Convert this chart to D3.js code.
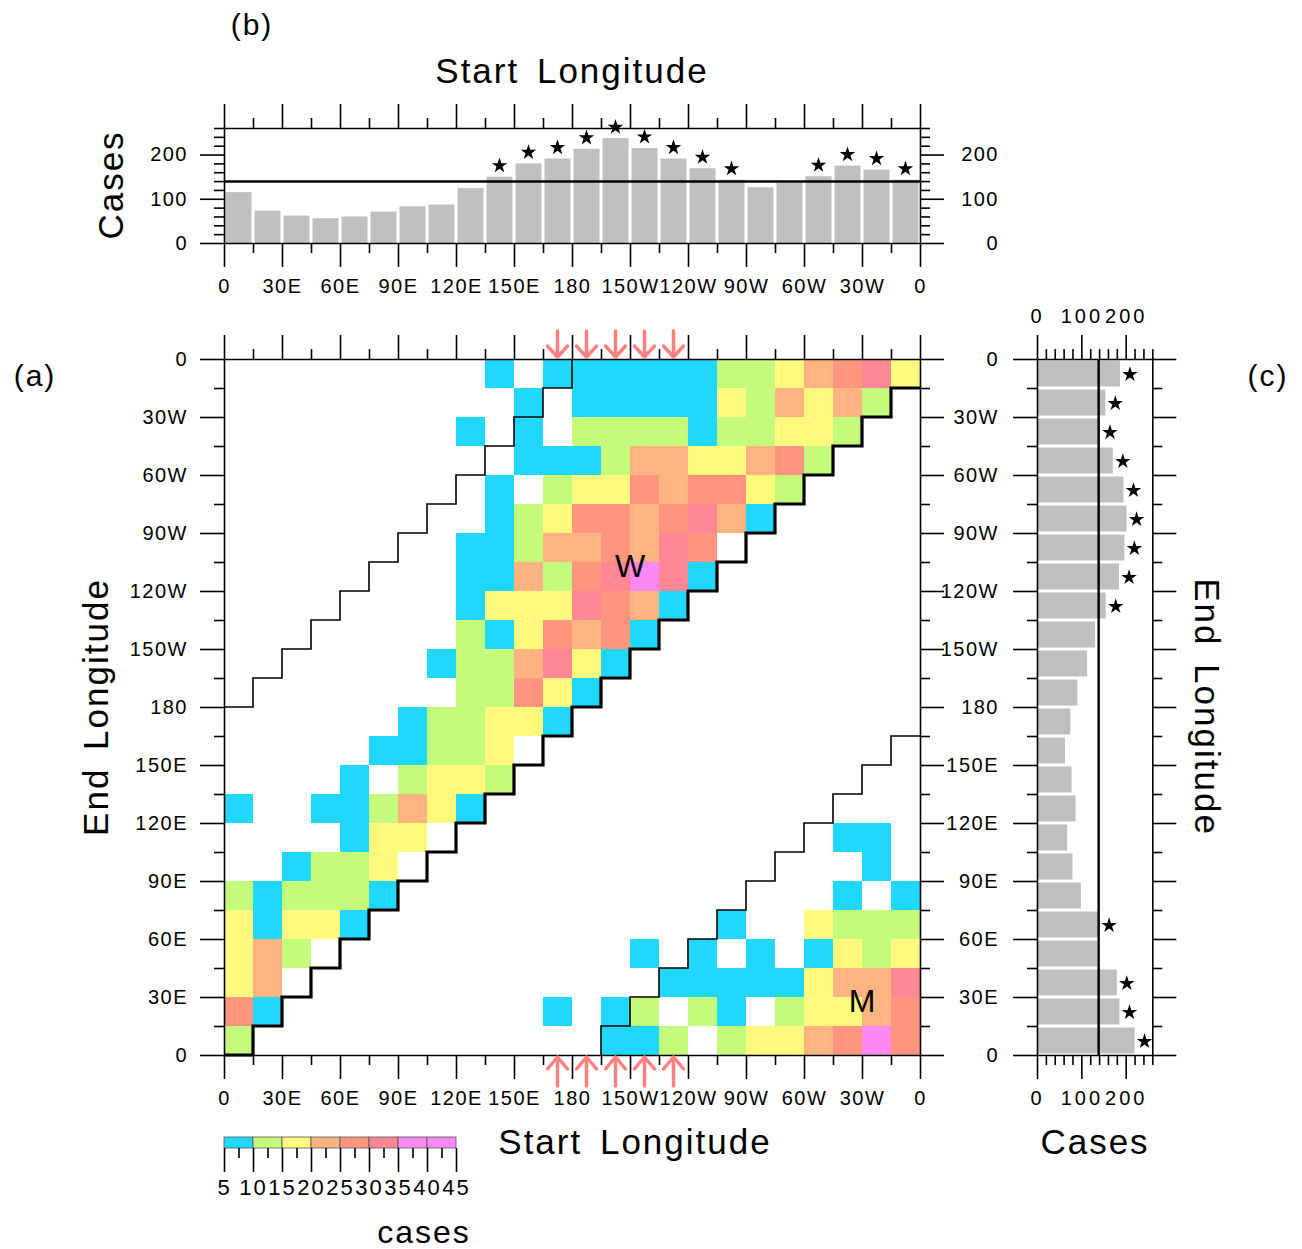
<!DOCTYPE html>
<html>
<head>
<meta charset="utf-8">
<script src="https://cdn.jsdelivr.net/npm/d3@7"></script>
<style>
  body { margin: 0; background: #fff; }
  svg text { font-family: "Liberation Sans", Arial, sans-serif; fill: #000; }
</style>
</head>
<body>
<svg id="chart" width="1302" height="1249"></svg>
<script>
// longitude bins are 15 degrees, 24 of them
const binWidth = 15;
const lonTicks = [0, 30, 60, 90, 120, 150, 180, 210, 240, 270, 300, 330, 360];
const lonMinor = [15, 45, 75, 105, 135, 165, 195, 225, 255, 285, 315, 345];
const lonLabels = ["0", "30E", "60E", "90E", "120E", "150E", "180", "150W", "120W", "90W", "60W", "30W", "0"];

// cases per cell: one row per end-longitude bin (0-15 first), columns = start-longitude bins
const cases = [
  [12, 0, 0, 0, 0, 0, 0, 0, 0, 0, 0, 0, 0, 7, 7,12, 0,12,17,17,22,27,37,27],
  [27, 7, 0, 0, 0, 0, 0, 0, 0, 0, 0, 7, 0, 7,12, 0,12, 7, 0,12,17,17,22,27],
  [17,22, 0, 0, 0, 0, 0, 0, 0, 0, 0, 0, 0, 0, 0, 7, 7, 7, 7, 7,17,22,22,32],
  [17,22,12, 0, 0, 0, 0, 0, 0, 0, 0, 0, 0, 0, 7, 0, 7, 0, 7, 0, 7,17,12,17],
  [17, 7,17,17, 7, 0, 0, 0, 0, 0, 0, 0, 0, 0, 0, 0, 0, 7, 0, 0,17,12,12,12],
  [12, 7,12,12,12, 7, 0, 0, 0, 0, 0, 0, 0, 0, 0, 0, 0, 0, 0, 0, 0, 7, 0, 7],
  [ 0, 0, 7,12,12,17, 0, 0, 0, 0, 0, 0, 0, 0, 0, 0, 0, 0, 0, 0, 0, 0, 7, 0],
  [ 0, 0, 0, 0, 7,17,17, 0, 0, 0, 0, 0, 0, 0, 0, 0, 0, 0, 0, 0, 0, 7, 7, 0],
  [ 7, 0, 0, 7, 7,12,22,17, 7, 0, 0, 0, 0, 0, 0, 0, 0, 0, 0, 0, 0, 0, 0, 0],
  [ 0, 0, 0, 0, 7, 0,12,17,17,12, 0, 0, 0, 0, 0, 0, 0, 0, 0, 0, 0, 0, 0, 0],
  [ 0, 0, 0, 0, 0, 7, 7,12,12,17, 0, 0, 0, 0, 0, 0, 0, 0, 0, 0, 0, 0, 0, 0],
  [ 0, 0, 0, 0, 0, 0, 7,12,12,17,17, 7, 0, 0, 0, 0, 0, 0, 0, 0, 0, 0, 0, 0],
  [ 0, 0, 0, 0, 0, 0, 0, 0,12,12,27,17, 7, 0, 0, 0, 0, 0, 0, 0, 0, 0, 0, 0],
  [ 0, 0, 0, 0, 0, 0, 0, 7,12,12,22,32,17, 7, 0, 0, 0, 0, 0, 0, 0, 0, 0, 0],
  [ 0, 0, 0, 0, 0, 0, 0, 0,12, 7,17,27,22,27, 7, 0, 0, 0, 0, 0, 0, 0, 0, 0],
  [ 0, 0, 0, 0, 0, 0, 0, 0, 7,17,17,17,32,27,22, 7, 0, 0, 0, 0, 0, 0, 0, 0],
  [ 0, 0, 0, 0, 0, 0, 0, 0, 7, 7,22,12,27,32,37,32, 7, 0, 0, 0, 0, 0, 0, 0],
  [ 0, 0, 0, 0, 0, 0, 0, 0, 7, 7,12,22,22,27,22,32,27, 0, 0, 0, 0, 0, 0, 0],
  [ 0, 0, 0, 0, 0, 0, 0, 0, 0, 7,12,17,27,27,22,27,32,22, 7, 0, 0, 0, 0, 0],
  [ 0, 0, 0, 0, 0, 0, 0, 0, 0, 7, 0,12,17,17,27,22,27,27,17,12, 0, 0, 0, 0],
  [ 0, 0, 0, 0, 0, 0, 0, 0, 0, 0, 7, 7, 7,12,22,22,17,17,22,27,12, 0, 0, 0],
  [ 0, 0, 0, 0, 0, 0, 0, 0, 7, 0, 7, 0,12,12,12,12, 7,12,12,17,17,12, 0, 0],
  [ 0, 0, 0, 0, 0, 0, 0, 0, 0, 0, 7, 0, 7, 7, 7, 7, 7,17,12,22,17,22,12, 0],
  [ 0, 0, 0, 0, 0, 0, 0, 0, 0, 7, 0, 7, 7, 7, 7, 7, 7,12,12,17,22,27,32,17]
];

// totals per start bin (panel b) and per end bin (panel c), with significance flags
const startTotals = [115, 73, 62, 56, 60, 71, 83, 87, 124, 150, 180, 191, 213, 237, 215, 191, 169, 143, 126, 136, 151, 175, 166, 143];
const startSignif = [0, 0, 0, 0, 0, 0, 0, 0, 0, 1, 1, 1, 1, 1, 1, 1, 1, 1, 0, 0, 1, 1, 1, 1];
const endTotals = [220, 186, 180, 136, 140, 99, 80, 68, 87, 78, 63, 75, 91, 113, 131, 155, 185, 197, 202, 195, 171, 142, 154, 187];
const endSignif = [1, 1, 1, 0, 1, 0, 0, 0, 0, 0, 0, 0, 0, 0, 0, 1, 1, 1, 1, 1, 1, 1, 1, 1];
const threshold = 139;
const caseTicks = [0, 100, 200];
const caseMinor = [20, 40, 60, 80, 120, 140, 160, 180, 220, 240, 260];

// colour levels
const levels = [5, 10, 15, 20, 25, 30, 35, 40, 45];
const levelColors = ["#20d8fe", "#c5fb7c", "#fffa7d", "#feb381", "#fe967f", "#fe8794", "#fc88f2", "#fc88f8"];

// marked start longitudes (arrows) and region letters
const arrowLons = [172.5, 187.5, 202.5, 217.5, 232.5];
const regionMarks = [{ label: "W", start: 210, end: 253 }, { label: "M", start: 330, end: 28 }];

const svg = d3.select("#chart");
const font = "'Liberation Sans', Arial, sans-serif";

const x = d3.scaleLinear().domain([0, 360]).range([224, 920]);
const y = d3.scaleLinear().domain([0, 360]).range([1055, 359]);
const yb = d3.scaleLinear().domain([0, 260]).range([243, 128]);
const xc = d3.scaleLinear().domain([0, 260]).range([1037, 1152.3]);
const color = d3.scaleThreshold().domain(levels.slice(1, -1)).range(levelColors);

const cellW = x(binWidth) - x(0);
const cellH = y(0) - y(binWidth);

// helper: major + minor tick axes
function drawAxis(axisFn, scale, major, minor, pos, labels, opts = {}) {
  const g = svg.append("g").attr("transform", pos);
  const maj = axisFn(scale).tickValues(major).tickSize(24).tickSizeOuter(0)
    .tickPadding(opts.pad || 12)
    .tickFormat((d, i) => labels ? labels[i] : "");
  g.call(maj);
  const gm = svg.append("g").attr("transform", pos);
  gm.call(axisFn(scale).tickValues(minor).tickSize(10).tickSizeOuter(0).tickFormat(""));
  gm.select(".domain").remove();
  [g, gm].forEach(s => {
    s.attr("font-family", font).attr("font-size", opts.size || 20);
    s.selectAll("line, path").attr("stroke", "#000").attr("stroke-width", 1.6);
  });
  g.selectAll("text").attr("letter-spacing", opts.spacing || 1.5).attr("fill", "#000");
  return g;
}

// ---------------- panel (a) ----------------
const cells = [];
cases.forEach((row, j) => row.forEach((v, i) => { if (v > 0) cells.push({ i, j, v }); }));

svg.append("g").selectAll("rect").data(cells).join("rect")
  .attr("x", d => x(d.i * binWidth))
  .attr("y", d => y((d.j + 1) * binWidth))
  .attr("width", cellW)
  .attr("height", cellH)
  .attr("fill", d => color(d.v))
  .attr("shape-rendering", "crispEdges");

// staircases: diagonal (thick) and +/-180 degree separation lines (thin)
const nBins = 360 / binWidth;
const line = d3.line().x(d => x(d[0] * binWidth)).y(d => y(d[1] * binWidth));
const diag = [[0, 0]];
for (let k = 1; k < nBins; k++) { diag.push([k, k - 1], [k, k]); }
diag.push([nBins, nBins - 1]);
const upper = [];
for (let k = 0; k < nBins / 2; k++) { upper.push([k, k + 12], [k + 1, k + 12]); }
upper.push([12, 24]);
const lower = [];
for (let k = 13; k < nBins; k++) { lower.push([k, k - 13], [k, k - 12]); }
lower.push([nBins, 11]);

svg.append("path").attr("d", line(upper)).attr("fill", "none").attr("stroke", "#000").attr("stroke-width", 1.6);
svg.append("path").attr("d", line(lower)).attr("fill", "none").attr("stroke", "#000").attr("stroke-width", 1.6);
svg.append("path").attr("d", line(diag)).attr("fill", "none").attr("stroke", "#000").attr("stroke-width", 3.2);

// frame + axes
drawAxis(d3.axisLeft, y, lonTicks, lonMinor, `translate(${x(0)},0)`, lonLabels);
drawAxis(d3.axisRight, y, lonTicks, lonMinor, `translate(${x(360)},0)`, null);
drawAxis(d3.axisTop, x, lonTicks, lonMinor, `translate(0,${y(360)})`, null);
drawAxis(d3.axisBottom, x, lonTicks, lonMinor, `translate(0,${y(0)})`, lonLabels, { pad: 12 });

regionMarks.forEach(m => {
  svg.append("text").attr("x", x(m.start)).attr("y", y(m.end))
    .attr("text-anchor", "middle").attr("dominant-baseline", "central")
    .attr("font-size", 32).text(m.label);
});

// arrows marking start longitudes
const arrowCol = "#ff8080";
arrowLons.forEach(lon => {
  const ax = x(lon);
  const top = y(360), bot = y(0);
  svg.append("path")
    .attr("d", `M${ax},${top - 28}L${ax},${top - 2}M${ax - 10},${top - 13}L${ax},${top - 2}L${ax + 10},${top - 13}`)
    .attr("fill", "none").attr("stroke", arrowCol).attr("stroke-width", 3.5)
    .attr("stroke-linecap", "round").attr("stroke-linejoin", "round");
  svg.append("path")
    .attr("d", `M${ax},${bot + 31}L${ax},${bot + 2}M${ax - 10},${bot + 14}L${ax},${bot + 2}L${ax + 10},${bot + 14}`)
    .attr("fill", "none").attr("stroke", arrowCol).attr("stroke-width", 3.5)
    .attr("stroke-linecap", "round").attr("stroke-linejoin", "round");
});

// ---------------- panel (b) ----------------
svg.append("g").selectAll("rect").data(startTotals).join("rect")
  .attr("x", (d, i) => x(i * binWidth) + 1.5)
  .attr("y", d => yb(d))
  .attr("width", cellW - 3)
  .attr("height", d => yb(0) - yb(d))
  .attr("fill", "#bfbfbf");

svg.append("line").attr("x1", x(0)).attr("x2", x(360))
  .attr("y1", yb(threshold)).attr("y2", yb(threshold))
  .attr("stroke", "#000").attr("stroke-width", 2.4);

const star = d3.symbol().type(d3.symbolStar).size(75);
svg.append("g").selectAll("path").data(startTotals.map((v, i) => ({ v, i })).filter(d => startSignif[d.i]))
  .join("path")
  .attr("d", star)
  .attr("transform", d => `translate(${x((d.i + 0.5) * binWidth)},${yb(d.v) - 11})`)
  .attr("fill", "#000");

drawAxis(d3.axisLeft, yb, caseTicks, caseMinor, `translate(${x(0)},0)`, caseTicks.map(String));
const bRight = drawAxis(d3.axisRight, yb, caseTicks, caseMinor, `translate(${x(360)},0)`, caseTicks.map(String));
bRight.selectAll("text").attr("text-anchor", "end").attr("x", 79);
drawAxis(d3.axisTop, x, lonTicks, lonMinor, `translate(0,${yb(260)})`, null);
drawAxis(d3.axisBottom, x, lonTicks, lonMinor, `translate(0,${yb(0)})`, lonLabels, { pad: 12 });

// ---------------- panel (c) ----------------
svg.append("g").selectAll("rect").data(endTotals).join("rect")
  .attr("x", xc(0))
  .attr("y", (d, j) => y((j + 1) * binWidth) + 1.5)
  .attr("width", d => xc(d) - xc(0))
  .attr("height", cellH - 3)
  .attr("fill", "#bfbfbf");

svg.append("line").attr("y1", y(0)).attr("y2", y(360))
  .attr("x1", xc(threshold)).attr("x2", xc(threshold))
  .attr("stroke", "#000").attr("stroke-width", 2.4);

svg.append("g").selectAll("path").data(endTotals.map((v, j) => ({ v, j })).filter(d => endSignif[d.j]))
  .join("path")
  .attr("d", star)
  .attr("transform", d => `translate(${xc(d.v) + 10},${y((d.j + 0.5) * binWidth) + 1})`)
  .attr("fill", "#000");

drawAxis(d3.axisLeft, y, lonTicks, lonMinor, `translate(${xc(0)},0)`, lonLabels, { pad: 14 });
drawAxis(d3.axisRight, y, lonTicks, lonMinor, `translate(${xc(260)},0)`, null);
drawAxis(d3.axisTop, xc, caseTicks, caseMinor, `translate(0,${y(360)})`, caseTicks.map(String), { pad: 12, spacing: 3 });
drawAxis(d3.axisBottom, xc, caseTicks, caseMinor, `translate(0,${y(0)})`, caseTicks.map(String), { pad: 12, spacing: 3 });

// ---------------- colour bar ----------------
const xcb = d3.scaleLinear().domain([5, 45]).range([x(0), x(0) + 8 * cellW]);
const cbTop = 1137, cbBot = 1148;
svg.append("g").selectAll("rect").data(levelColors).join("rect")
  .attr("x", (d, k) => xcb(levels[k]))
  .attr("y", cbTop)
  .attr("width", (d, k) => xcb(levels[k + 1]) - xcb(levels[k]))
  .attr("height", cbBot - cbTop)
  .attr("fill", d => d)
  .attr("stroke", "#555").attr("stroke-width", 0.8);
const cbMinor = levels.slice(0, -1).map(v => v + 2.5);
const cbAxis = drawAxis(d3.axisBottom, xcb, levels, cbMinor, `translate(0,${cbBot})`, levels.map(String), { pad: 7, size: 22, spacing: 2 });
cbAxis.select(".domain").remove();

// ---------------- titles ----------------
function label(txt, tx, ty, size, rot, anchor) {
  svg.append("text")
    .attr("transform", `translate(${tx},${ty}) rotate(${rot || 0})`)
    .attr("text-anchor", anchor || "middle")
    .attr("dominant-baseline", "central")
    .attr("font-size", size)
    .attr("letter-spacing", 2)
    .attr("word-spacing", 6)
    .text(txt);
}
label("(b)", 252, 24, 30);
label("Start Longitude", 572, 70, 35);
label("Cases", 110, 185, 35, -90);
label("(a)", 35, 375, 30);
label("(c)", 1268, 375, 30);
label("End Longitude", 95, 707, 35, -90);
label("Start Longitude", 635, 1141, 35);
label("Cases", 1095, 1141, 35);
label("End Longitude", 1207, 707, 35, 90);
svg.append("text").attr("x", 424).attr("y", 1243).attr("text-anchor", "middle")
  .attr("font-size", 32).attr("letter-spacing", 2).text("cases");
</script>
</body>
</html>
